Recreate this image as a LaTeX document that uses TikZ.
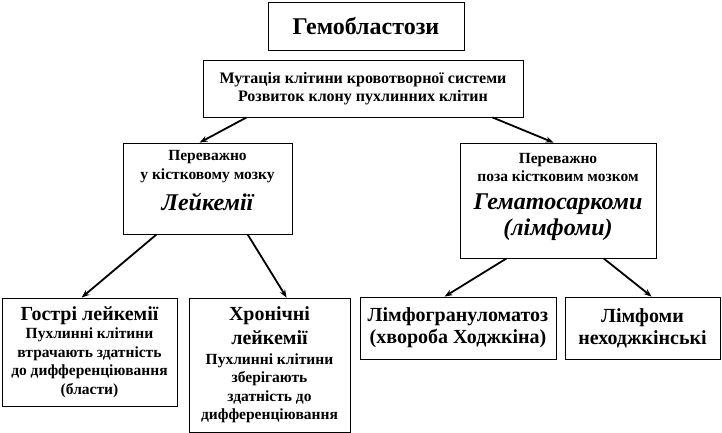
\documentclass[tikz,border=0pt]{standalone}
\usepackage{fontspec}
\setmainfont{Liberation Serif}
\usetikzlibrary{arrows,arrows.meta,positioning}
\newcommand\bigit[1]{{\bfseries\itshape\fontsize{24}{28}\selectfont #1}}
\newcommand\midbf[1]{{\bfseries\fontsize{20}{22}\selectfont #1}}
\newcommand\lowpad[1]{\rule[-#1]{0pt}{#1}}
\tikzset{
  basic/.style = {draw, rectangle, line width=0.8pt, inner sep=0pt, align=center,
                  font=\bfseries\fontsize{15.5}{18.5}\selectfont},
  head/.style  = {basic, font=\bfseries\fontsize{24}{28}\selectfont},
  kind/.style  = {basic, font=\bfseries\fontsize{20}{22}\selectfont},
  arr/.style   = {-{Stealth[length=8pt,width=6pt]}, line width=1.8pt}
}

\begin{document}
\begin{tikzpicture}[x=1pt,y=-1pt]
\useasboundingbox (0,0) rectangle (722,433);
\node[head, minimum width=196pt, minimum height=48pt] (gem) at (366,26) {Гемобластози};
\node[basic, minimum width=320pt, minimum height=57pt, font=\bfseries\fontsize{16}{18}\selectfont] (mut) at (363,88.5)
  {Мутація клітини кровотворної системи\\Розвиток клону пухлинних клітин};
\node[basic, minimum width=169pt, minimum height=91pt] (leuk) at (207.5,188.5)
  {Переважно\\у кістковому мозку\\[9.5pt]\bigit{Лейкемії}\lowpad{16pt}};
\node[basic, minimum width=196pt, minimum height=115pt] (sarc) at (558,200.5)
  {Переважно\\поза кістковим мозком\\[9.5pt]\bigit{Гематосаркоми}\\[3.5pt]\bigit{(лімфоми)}\lowpad{12pt}};
\node[basic, minimum width=175pt, minimum height=108pt] (acute) at (89.5,352)
  {\midbf{Гострі лейкемії}\\Пухлинні клітини\\втрачають здатність\\до дифференціювання\\(бласти)};
\node[basic, minimum width=161pt, minimum height=134pt] (chron) at (269.5,365)
  {\midbf{Хронічні}\\[5pt]\midbf{лейкемії}\\[1.5pt]Пухлинні клітини\\зберігають\\здатність до\\дифференціювання};
\node[kind, minimum width=196pt, minimum height=62pt] (lgm) at (458,328)
  {Лімфогрануломатоз\\(хвороба Ходжкіна)};
\node[kind, minimum width=155pt, minimum height=62pt] (nhl) at (642.5,328)
  {Лімфоми\\неходжкінські};
\draw[arr] ([xshift=44pt]mut.south west) -- ([xshift=77pt]leuk.north west);
\draw[arr] ([xshift=-31pt]mut.south east) -- ([xshift=94pt]sarc.north west);
\draw[arr] ([xshift=34pt]leuk.south west) -- ([xshift=80pt]acute.north west);
\draw[arr] ([xshift=125pt]leuk.south west) -- ([xshift=98pt]chron.north west);
\draw[arr] ([xshift=47pt]sarc.south west) -- ([xshift=85pt]lgm.north west);
\draw[arr] ([xshift=144pt]sarc.south west) -- ([xshift=87pt]nhl.north west);
\end{tikzpicture}
\end{document}
